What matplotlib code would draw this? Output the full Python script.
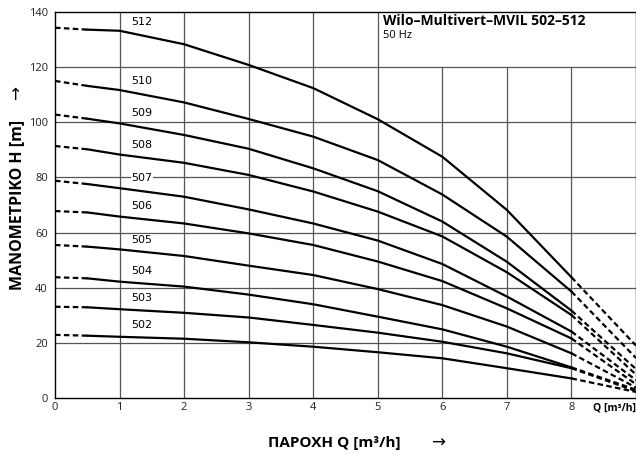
"""
Wilo-Multivert-MVIL 502-512 pump curves (50 Hz)
"""

import numpy as np
from matplotlib import pyplot as plt

# Q [m3/h] read points
q = [0, 0.5, 1, 2, 3, 4, 5, 6, 7, 8, 9]

# head H [m] per model
h_512 = [134.3, 133.6, 133.2, 128.3, 120.8, 112.4, 101.1, 87.5, 68.2, 43.8, 19.0]
h_510 = [115.0, 113.2, 111.7, 107.2, 101.2, 94.8, 86.3, 73.8, 58.5, 38.6, 14.5]
h_509 = [102.8, 101.3, 99.6, 95.4, 90.4, 83.3, 75.0, 64.0, 49.4, 31.7, 10.5]
h_508 = [91.4, 90.2, 88.3, 85.3, 80.9, 74.9, 67.6, 58.6, 45.6, 30.1, 8.5]
h_507 = [78.8, 77.6, 76.1, 73.0, 68.4, 63.3, 57.1, 48.6, 36.8, 24.1, 6.5]
h_506 = [67.8, 67.3, 65.8, 63.3, 59.7, 55.5, 49.5, 42.4, 32.5, 21.6, 5.0]
h_505 = [55.5, 54.9, 53.9, 51.5, 48.0, 44.6, 39.5, 33.7, 25.9, 16.2, 3.8]
h_504 = [43.8, 43.4, 42.2, 40.4, 37.5, 34.0, 29.5, 24.9, 18.6, 11.1, 3.0]
h_503 = [33.1, 32.9, 32.2, 30.9, 29.2, 26.5, 23.7, 20.4, 16.2, 10.8, 2.5]
h_502 = [22.9, 22.6, 22.2, 21.5, 20.2, 18.6, 16.6, 14.4, 10.8, 7.1, 2.2]

models = ["512", "510", "509", "508", "507", "506", "505", "504", "503", "502"]
curves = [h_512, h_510, h_509, h_508, h_507, h_506, h_505, h_504, h_503, h_502]
# label heights (text baseline)
label_h = [134.5, 113.0, 101.5, 90.0, 77.8, 67.8, 55.5, 44.2, 34.3, 24.6]

W, H = 636, 467
plt.rcParams["font.family"] = ["Open Sans", "DejaVu Sans"]

fig = plt.figure(figsize=(W / 100, H / 100), dpi=100)
ax = fig.add_axes([55 / W, (H - 398) / H, 581 / W, 386 / H])

ax.set_xlim(0, 9)
ax.set_ylim(0, 140)

# grid: columns 6-8 stop below the title box
grid_c = "#555555"
for x in range(1, 9):
    top = 140 if x <= 5 else 120
    ax.plot([x, x], [0, top], c=grid_c, lw=0.9, zorder=1)
for y in range(20, 140, 20):
    ax.plot([0, 9], [y, y], c=grid_c, lw=0.9, zorder=1)

qa = np.array(q)
for name, h, ly in zip(models, curves, label_h):
    h = np.array(h)
    # dashed start, solid main part, dashed end
    ax.plot(qa[:2], h[:2], c="black", lw=1.6, ls=(0, (2.5, 1.5)), zorder=3)
    ax.plot(qa[1:10], h[1:10], c="black", lw=1.6, zorder=3,
            solid_joinstyle="round")
    ax.plot(qa[9:], h[9:], c="black", lw=1.6, ls=(0, (2.5, 1.5)), zorder=3)
    ax.text(1.18, ly, name, fontsize=8, family="DejaVu Sans", va="bottom",
            ha="left", zorder=4,
            bbox=dict(facecolor="white", edgecolor="none", pad=0.5))

# title box
ax.text(5.08, 139.3, "Wilo\u2013Multivert\u2013MVIL 502\u2013512", fontsize=10,
        fontweight="bold", va="top", ha="left", zorder=5)
ax.text(5.08, 133.3, "50 Hz", fontsize=8, va="top", ha="left", zorder=5)

for s in ax.spines.values():
    s.set_linewidth(1.0)
    s.set_color("black")

ax.set_xticks(range(0, 9))
ax.set_yticks(range(0, 141, 20))
ax.tick_params(length=0, labelsize=8, colors="#222222")
ax.tick_params(axis="y", pad=5)
ax.tick_params(axis="x", pad=3)

fig.text(636 / W, 1 - 408 / H, "Q [m\u00b3/h]", fontsize=7.5, fontweight="bold",
         ha="right", va="center")

fig.text(17 / W, 1 - 205 / H, "\u039c\u0391\u039d\u039f\u039c\u0395\u03a4\u03a1\u0399\u039a\u039f H [m]",
         fontsize=11.5, fontweight="bold", rotation=90, ha="center", va="center")
fig.text(17 / W, 1 - 93 / H, "\u2192", fontsize=12, family="DejaVu Sans",
         rotation=90, ha="center", va="center")

fig.text(334 / W, 1 - 443 / H, "\u03a0\u0391\u03a1\u039f\u03a7\u0397 Q [m\u00b3/h]",
         fontsize=11, fontweight="bold", ha="center", va="center")
fig.text(438 / W, 1 - 443 / H, "\u2192", fontsize=12, family="DejaVu Sans",
         ha="center", va="center")

fig.savefig("out.png", dpi=100)
